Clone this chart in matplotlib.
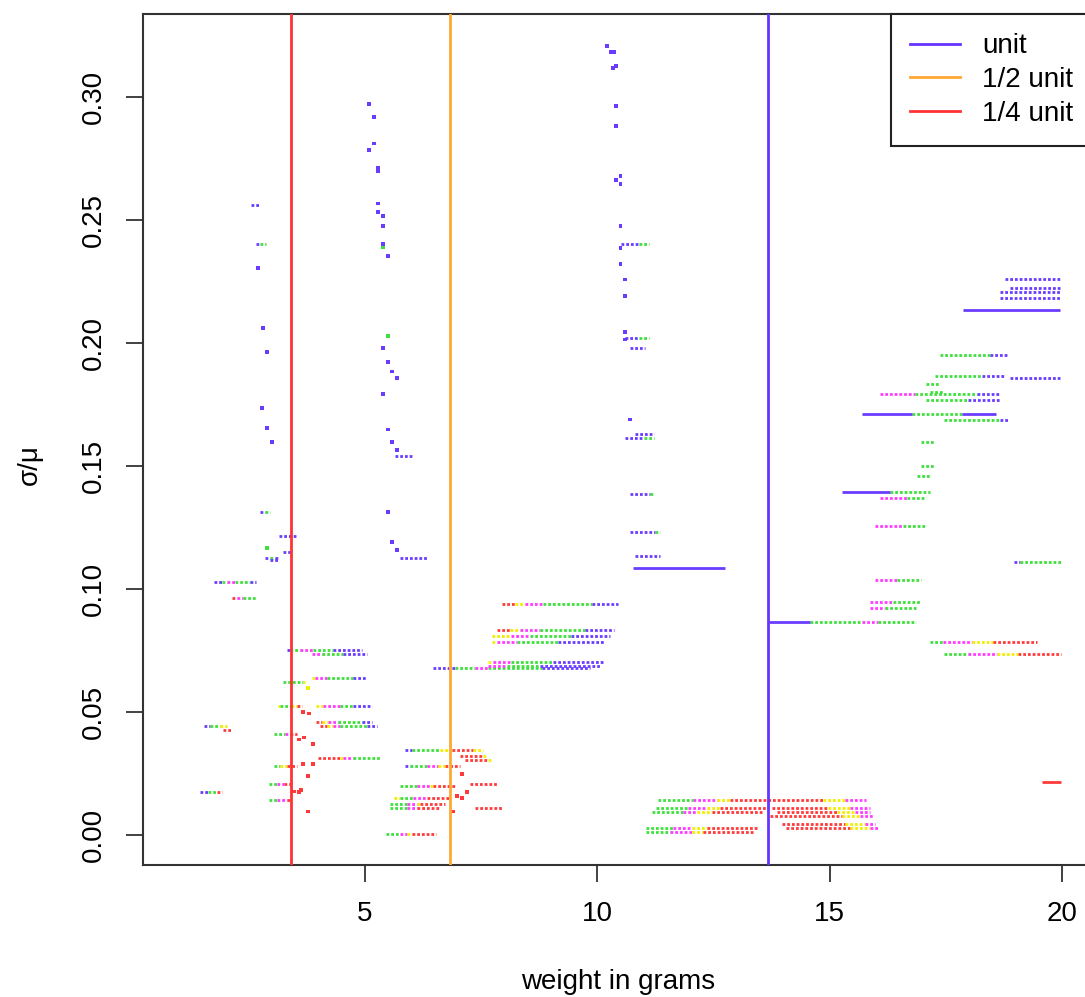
import matplotlib
matplotlib.use("Agg")
import matplotlib.pyplot as plt

plt.rcParams['font.family'] = ['Liberation Sans', 'DejaVu Sans']

# colour codes used by the runs / dots
COLORS = {'b': '#6a3cff', 'g': '#3ee03e', 'm': '#ff3cff', 'y': '#f2ee00', 'r': '#ff3a3a'}

# reference lines (grams)
unit_weight = 13.68
ref_lines = [unit_weight, unit_weight / 2, unit_weight / 4]
ref_labels = ['unit', '1/2 unit', '1/4 unit']
ref_colors = ['#6633ff', '#ffa833', '#ff3333']

# dotted runs: (sigma/mu, x start, [(colour, x end), ...])
runs_left = [
    (0.1030, 1.75, [('b', 1.93), ('g', 2.03), ('m', 2.20), ('g', 2.53), ('b', 2.66)]),
    (0.0966, 2.14, [('r', 2.25), ('m', 2.38), ('g', 2.66)]),
    (0.0446, 1.54, [('b', 1.67), ('g', 1.88), ('y', 2.03)]),
    (0.0429, 1.95, [('r', 2.14)]),
    (0.0177, 1.45, [('b', 1.63), ('g', 1.82), ('r', 1.93)]),
    (0.2563, 2.55, [('b', 2.74)]),
    (0.2405, 2.66, [('b', 2.74), ('g', 2.87)]),
    (0.1315, 2.74, [('b', 2.85), ('g', 2.96)]),
    (0.1218, 3.15, [('b', 3.54)]),
    (0.1153, 3.24, [('b', 3.43)]),
    (0.1128, 2.85, [('b', 2.96), ('g', 3.06), ('b', 3.15)]),
    (0.1120, 2.96, [('b', 3.15)]),
    (0.0754, 3.32, [('b', 3.39), ('g', 3.60), ('m', 3.88), ('g', 4.31), ('b', 4.94)]),
    (0.0738, 3.86, [('m', 4.08), ('g', 4.53), ('b', 5.04)]),
    (0.0641, 3.86, [('y', 3.92), ('m', 4.18), ('g', 4.74), ('b', 5.04)]),
    (0.0624, 3.24, [('g', 3.67), ('y', 3.72)]),
    (0.0527, 3.13, [('y', 3.17), ('g', 3.41), ('y', 3.54), ('r', 3.65)]),
    (0.0527, 3.95, [('y', 4.10), ('m', 4.46), ('g', 4.74), ('b', 5.15)]),
    (0.0462, 3.95, [('r', 4.08), ('y', 4.20), ('m', 4.42), ('g', 4.94), ('b', 5.15)]),
    (0.0446, 4.03, [('r', 4.18), ('y', 4.31), ('m', 4.46), ('g', 5.04), ('b', 5.26)]),
    (0.0413, 3.04, [('g', 3.28), ('m', 3.39), ('r', 3.54)]),
    (0.0315, 3.99, [('r', 4.46), ('y', 4.53), ('m', 4.74), ('g', 5.32)]),
    (0.0283, 3.04, [('g', 3.17), ('y', 3.32), ('r', 3.54)]),
    (0.0210, 2.94, [('g', 3.11), ('m', 3.26), ('r', 3.41)]),
    (0.0145, 2.94, [('g', 3.11), ('m', 3.32), ('r', 3.41)]),
]

runs_mid = [
    (0.1543, 5.65, [('b', 6.03)]),
    (0.1128, 5.75, [('b', 6.33)]),
    (0.0681, 6.46, [('b', 6.93), ('g', 7.37), ('m', 7.65), ('g', 8.80), ('b', 9.84)]),
    (0.0688, 7.65, [('m', 8.05), ('g', 8.76), ('b', 10.05)]),
    (0.0706, 7.65, [('y', 7.75), ('m', 8.14), ('g', 9.04), ('b', 10.14)]),
    (0.0787, 7.73, [('y', 7.84), ('m', 8.27), ('g', 9.15), ('b', 10.14)]),
    (0.0811, 7.73, [('y', 8.14), ('m', 8.54), ('g', 9.44), ('b', 10.27)]),
    (0.0836, 7.84, [('r', 8.12), ('y', 8.33), ('m', 8.76), ('g', 9.73), ('b', 10.35)]),
    (0.0941, 7.95, [('r', 8.23), ('y', 8.44), ('m', 8.83), ('g', 9.88), ('b', 10.44)]),
    (0.0348, 5.86, [('b', 6.01), ('g', 6.61), ('y', 6.87), ('r', 7.32), ('y', 7.54)]),
    (0.0324, 7.04, [('r', 7.54), ('y', 7.62)]),
    (0.0307, 7.15, [('r', 7.65), ('y', 7.73)]),
    (0.0283, 5.86, [('b', 5.97), ('g', 6.33), ('m', 6.57), ('y', 6.72), ('r', 7.04)]),
    (0.0202, 5.75, [('g', 6.12), ('m', 6.40), ('y', 6.46), ('r', 6.94)]),
    (0.0210, 7.26, [('r', 7.84)]),
    (0.0153, 5.62, [('y', 5.75), ('g', 6.03), ('m', 6.33), ('r', 6.83)]),
    (0.0128, 5.54, [('g', 5.90), ('m', 6.12), ('y', 6.18), ('r', 6.72)]),
    (0.0112, 5.54, [('g', 5.90), ('m', 6.12), ('r', 6.61)]),
    (0.0112, 7.37, [('r', 7.95)]),
    (0.0007, 5.45, [('g', 5.75), ('m', 5.90), ('y', 6.01), ('r', 6.53)]),
    (0.2405, 10.50, [('b', 10.90), ('g', 11.10)]),
    (0.2022, 10.60, [('b', 10.90), ('g', 11.10)]),
    (0.1981, 10.70, [('b', 11.03)]),
    (0.1633, 10.80, [('b', 11.22)]),
    (0.1615, 10.60, [('b', 11.00), ('g', 11.22)]),
    (0.1389, 10.70, [('b', 11.13), ('g', 11.22)]),
    (0.1234, 10.70, [('b', 11.24), ('g', 11.35)]),
    (0.1137, 10.80, [('b', 11.35)]),
]

runs_low = [
    (0.0145, 11.30, [('g', 12.05), ('m', 12.57), ('y', 12.85), ('r', 14.85), ('y', 15.32), ('m', 15.77)]),
    (0.0112, 11.26, [('g', 11.95), ('m', 12.35), ('y', 12.63), ('r', 13.67)]),
    (0.0112, 13.75, [('r', 14.96), ('y', 15.43), ('m', 15.86)]),
    (0.0096, 13.86, [('r', 15.15), ('y', 15.54), ('m', 15.86)]),
    (0.0093, 11.17, [('g', 11.84), ('m', 12.14), ('y', 12.46), ('r', 13.56)]),
    (0.0080, 13.71, [('r', 15.26), ('y', 15.65), ('m', 15.95)]),
    (0.0047, 13.97, [('r', 15.32), ('y', 15.75), ('m', 15.97)]),
    (0.0031, 11.04, [('g', 11.62), ('m', 12.03), ('y', 12.35), ('r', 13.43)]),
    (0.0031, 14.05, [('r', 15.43), ('y', 15.86), ('m', 16.05)]),
    (0.0015, 11.04, [('g', 11.56), ('m', 12.03), ('y', 12.27), ('r', 13.34)]),
]

runs_right = [
    (0.0868, 14.57, [('g', 15.69), ('m', 16.03), ('g', 16.85)]),
    (0.1112, 18.96, [('b', 19.09), ('g', 19.99)]),
    (0.1039, 15.97, [('m', 16.44), ('g', 16.96)]),
    (0.0950, 15.86, [('m', 16.35), ('g', 16.96)]),
    (0.0925, 15.86, [('m', 16.18), ('g', 16.85)]),
    (0.0787, 17.15, [('g', 17.43), ('m', 18.05), ('y', 18.51), ('r', 19.45)]),
    (0.0738, 17.45, [('g', 17.97), ('m', 18.59), ('y', 19.04), ('r', 19.97)]),
    (0.2263, 18.76, [('b', 19.95)]),
    (0.2226, 18.87, [('b', 19.95)]),
    (0.2210, 18.66, [('b', 19.95)]),
    (0.2185, 18.66, [('b', 19.95)]),
    (0.1952, 17.37, [('g', 18.44), ('b', 18.83)]),
    (0.1868, 17.26, [('g', 18.27), ('b', 18.74)]),
    (0.1860, 18.87, [('b', 19.95)]),
    (0.1836, 17.06, [('g', 17.37)]),
    (0.1803, 17.15, [('g', 17.43)]),
    (0.1795, 16.08, [('m', 16.83), ('g', 18.16), ('b', 18.66)]),
    (0.1771, 17.06, [('g', 17.97), ('b', 18.66)]),
    (0.1714, 16.76, [('g', 17.84)]),
    (0.1689, 17.45, [('g', 18.66), ('b', 18.83)]),
    (0.1600, 16.96, [('g', 17.24)]),
    (0.1502, 16.96, [('g', 17.24)]),
    (0.1462, 16.87, [('g', 17.15)]),
    (0.1397, 16.29, [('g', 17.15)]),
    (0.1372, 16.08, [('m', 16.66), ('g', 17.06)]),
    (0.1259, 15.97, [('m', 16.57), ('g', 17.06)]),
]

# runs dense enough to look solid
runs_solid = [
    (0.1087, 10.76, [('b', 12.74)]),
    (0.0868, 13.69, [('b', 14.57)]),
    (0.2137, 17.86, [('b', 19.95)]),
    (0.1714, 15.69, [('b', 16.76)]),
    (0.1714, 17.84, [('b', 18.57)]),
    (0.1397, 15.26, [('b', 16.29)]),
    (0.0218, 19.56, [('r', 19.97)]),
]

# single points: (x, sigma/mu, colour)
dots = [
    (2.70, 0.2307, 'b'), (2.80, 0.2063, 'b'), (2.89, 0.1966, 'b'), (2.78, 0.1738, 'b'),
    (2.89, 0.1657, 'b'), (3.00, 0.1600, 'b'), (2.90, 0.1169, 'g'),
    (3.77, 0.0600, 'y'), (3.67, 0.0500, 'r'), (3.80, 0.0495, 'r'), (3.58, 0.0389, 'r'),
    (3.69, 0.0397, 'r'), (3.88, 0.0372, 'r'), (3.67, 0.0291, 'r'), (3.88, 0.0291, 'r'),
    (3.77, 0.0242, 'r'), (3.47, 0.0178, 'r'), (3.58, 0.0176, 'r'), (3.62, 0.0184, 'r'),
    (3.77, 0.0096, 'r'),
    (5.09, 0.2974, 'b'), (5.19, 0.2921, 'b'), (5.19, 0.2813, 'b'), (5.09, 0.2787, 'b'),
    (5.28, 0.2714, 'b'), (5.28, 0.2699, 'b'), (5.28, 0.2568, 'b'), (5.28, 0.2535, 'b'),
    (5.39, 0.2519, 'b'), (5.39, 0.2478, 'b'), (5.39, 0.2405, 'b'), (5.39, 0.2389, 'g'),
    (5.50, 0.2356, 'b'), (5.50, 0.2031, 'g'), (5.39, 0.1982, 'b'), (5.50, 0.1925, 'b'),
    (5.58, 0.1885, 'b'), (5.69, 0.1860, 'b'), (5.39, 0.1795, 'b'), (5.50, 0.1649, 'b'),
    (5.58, 0.1600, 'b'), (5.69, 0.1567, 'b'), (5.50, 0.1315, 'b'), (5.58, 0.1193, 'b'),
    (5.69, 0.1161, 'b'),
    (7.09, 0.0250, 'r'), (7.19, 0.0177, 'r'), (6.98, 0.0160, 'r'), (7.09, 0.0152, 'r'),
    (6.89, 0.0096, 'r'),
    (10.20, 0.3210, 'b'), (10.28, 0.3185, 'b'), (10.36, 0.3185, 'b'), (10.40, 0.3128, 'b'),
    (10.33, 0.3120, 'b'), (10.40, 0.2966, 'b'), (10.40, 0.2885, 'b'), (10.50, 0.2681, 'b'),
    (10.40, 0.2664, 'b'), (10.50, 0.2648, 'b'), (10.50, 0.2478, 'b'), (10.50, 0.2388, 'b'),
    (10.50, 0.2323, 'b'), (10.60, 0.2259, 'b'), (10.60, 0.2192, 'b'), (10.60, 0.2047, 'b'),
    (10.60, 0.2016, 'b'), (10.70, 0.1690, 'b'),
]


def draw_runs(ax, runs, ls):
    for y, x, pieces in runs:
        for c, x_end in pieces:
            ax.hlines(y, x, x_end, colors=COLORS[c], linestyles=ls, linewidth=2.0)
            x = x_end


fig = plt.figure(figsize=(10.85, 9.97), dpi=100)
ax = fig.add_axes([143 / 1085, 132 / 997, 950 / 1085, 851 / 997])

dot_style = (0, (1, 0.7))
for runs in (runs_left, runs_mid, runs_low, runs_right):
    draw_runs(ax, runs, dot_style)
draw_runs(ax, runs_solid, 'solid')

ax.scatter([d[0] for d in dots], [d[1] for d in dots],
           c=[COLORS[d[2]] for d in dots], s=7, marker='s', linewidths=0, zorder=3)

for xv, lab, col in zip(ref_lines, ref_labels, ref_colors):
    ax.axvline(xv, color=col, linewidth=2.0, label=lab, zorder=4)

ax.set_xlim(0.226, 20.66)
ax.set_ylim(-0.0121, 0.3339)
ax.set_xticks([5, 10, 15, 20])
ax.set_yticks([0.0, 0.05, 0.10, 0.15, 0.20, 0.25, 0.30])
ax.set_yticklabels(['0.00', '0.05', '0.10', '0.15', '0.20', '0.25', '0.30'],
                   rotation=90, va='center')
ax.tick_params(length=12, width=1.3, color='#333333', labelsize=20, pad=14)
ax.tick_params(axis='y', pad=14)
for s in ax.spines.values():
    s.set_color('#333333')
    s.set_linewidth(1.5)

ax.set_xlabel('weight in grams', fontsize=20, labelpad=30)
ax.set_ylabel('σ/μ', fontsize=20, labelpad=30)
ax.yaxis.set_label_coords(-0.105, 0.47)

leg = ax.legend(loc='upper right', borderaxespad=0, fontsize=20, fancybox=False,
                framealpha=1, edgecolor='#222222', handlelength=1.8,
                handletextpad=0.8, borderpad=0.7, labelspacing=0.28)
leg.get_frame().set_linewidth(1.5)

fig.savefig('out.png', dpi=100)
